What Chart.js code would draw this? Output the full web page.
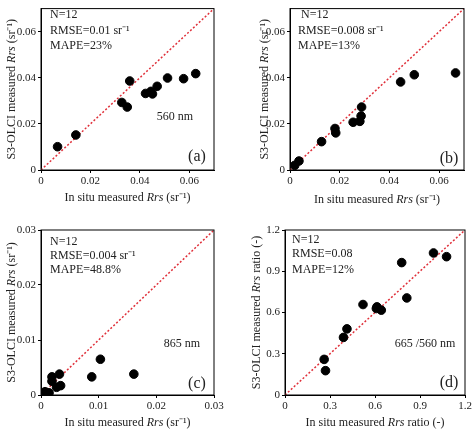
<!DOCTYPE html>
<html>
<head>
<meta charset="utf-8">
<script src="https://cdn.jsdelivr.net/npm/chart.js@4"></script>
<style>
  body { margin: 0; background: #fff; }
  .cell { position: absolute; width: 237px; height: 217px; }
</style>
</head>
<body>
<div class="cell" style="left:0;top:0"><canvas id="ca"></canvas></div>
<div class="cell" style="left:237px;top:0"><canvas id="cb"></canvas></div>
<div class="cell" style="left:0;top:217px"><canvas id="cc"></canvas></div>
<div class="cell" style="left:237px;top:217px"><canvas id="cd"></canvas></div>
<script>
// values
const insituA = [0.0067, 0.0141, 0.0327, 0.0349, 0.0359, 0.0423, 0.0445, 0.0451, 0.0470, 0.0512, 0.0577, 0.0626];
const olciA   = [0.0101, 0.0152, 0.0293, 0.0273, 0.0386, 0.0332, 0.0341, 0.0330, 0.0363, 0.0399, 0.0396, 0.0418];
const insituB = [0.0019, 0.0036, 0.0127, 0.0181, 0.0184, 0.0254, 0.0281, 0.0286, 0.0288, 0.0445, 0.0500, 0.0666];
const olciB   = [0.0020, 0.0039, 0.0123, 0.0180, 0.0161, 0.0207, 0.0211, 0.0234, 0.0273, 0.0382, 0.0413, 0.0421];
const insituC = [0.0001, 0.0004, 0.0007, 0.0014, 0.0019, 0.0019, 0.0027, 0.0032, 0.0034, 0.0088, 0.0103, 0.0161];
const olciC   = [0.0001, 0.0003, 0.0006, 0.0004, 0.0033, 0.0025, 0.0014, 0.0038, 0.0017, 0.0033, 0.0065, 0.0038];
const insituD = [0.261, 0.270, 0.390, 0.413, 0.520, 0.609, 0.613, 0.642, 0.778, 0.812, 0.990, 1.077];
const olciD   = [0.259, 0.177, 0.419, 0.481, 0.658, 0.629, 0.641, 0.617, 0.963, 0.706, 1.033, 1.006];

const ticksRrs = [0, 0.02, 0.04, 0.06];
const ticksNir = [0, 0.01, 0.02, 0.03];
const ticksRatio = [0, 0.3, 0.6, 0.9, 1.2];

const statsA = ['N=12', 'RMSE=0.01 sr⁻¹', 'MAPE=23%'];
const statsB = ['N=12', 'RMSE=0.008 sr⁻¹', 'MAPE=13%'];
const statsC = ['N=12', 'RMSE=0.004 sr⁻¹', 'MAPE=48.8%'];
const statsD = ['N=12', 'RMSE=0.08', 'MAPE=12%'];

const SERIF = '"Liberation Serif", "Times New Roman", serif';

function tickText(v) {
  if (v === 0) return '0';
  return String(v);
}

// draws mixed roman / italic text; parts = [[text, italic], ...]
function mixedText(ctx, parts, x, y, size) {
  let total = 0;
  parts.forEach(p => {
    ctx.font = (p[1] ? 'italic ' : '') + size + 'px ' + SERIF;
    total += ctx.measureText(p[0]).width;
  });
  let cx = x - total / 2;
  parts.forEach(p => {
    ctx.font = (p[1] ? 'italic ' : '') + size + 'px ' + SERIF;
    ctx.fillText(p[0], cx, y);
    cx += ctx.measureText(p[0]).width;
  });
}

function makePanel(id, cfg) {
  const points = cfg.xs.map((x, i) => ({ x: x, y: cfg.ys[i] }));

  const decor = {
    id: 'decor',
    afterDraw(chart) {
      const ctx = chart.ctx;
      const a = chart.chartArea;
      ctx.save();
      ctx.strokeStyle = '#000';
      ctx.lineWidth = 1;
      ctx.strokeRect(a.left, a.top, a.right - a.left, a.bottom - a.top);
      ctx.fillStyle = '#222';
      ctx.textBaseline = 'middle';
      ctx.textAlign = 'left';
      ctx.font = '12px ' + SERIF;
      cfg.stats.forEach((s, i) => {
        ctx.fillText(s, cfg.statX[i], cfg.statY[i]);
      });
      ctx.textAlign = 'center';
      ctx.font = '16px ' + SERIF;
      ctx.fillText(cfg.label, cfg.labelPos[0], cfg.labelPos[1]);
      if (cfg.band) {
        ctx.font = '12px ' + SERIF;
        ctx.fillText(cfg.band, cfg.bandPos[0], cfg.bandPos[1]);
      }
      ctx.textAlign = 'left';
      mixedText(ctx, cfg.xTitle, (a.left + a.right) / 2, cfg.xTitleY, 12);
      ctx.translate(cfg.yTitleX, (a.top + a.bottom) / 2);
      ctx.rotate(-Math.PI / 2);
      mixedText(ctx, cfg.yTitle, 0, 0, 12);
      ctx.restore();
    }
  };

  new Chart(document.getElementById(id), {
    type: 'scatter',
    data: {
      datasets: [
        {
          data: points,
          backgroundColor: '#000',
          borderColor: '#000',
          pointRadius: 4.3,
          pointHoverRadius: 4.3
        },
        {
          type: 'line',
          data: [{ x: 0, y: 0 }, { x: cfg.max, y: cfg.max }],
          borderColor: '#e0303a',
          borderWidth: 1.5,
          borderDash: [2, 2],
          pointRadius: 0,
          fill: false
        }
      ]
    },
    options: {
      responsive: false,
      animation: false,
      devicePixelRatio: 1,
      layout: { padding: { top: cfg.pad[0], right: cfg.pad[1], bottom: 0, left: 0 } },
      plugins: { legend: { display: false }, tooltip: { enabled: false } },
      scales: {
        x: {
          type: 'linear', min: 0, max: cfg.max,
          grid: { drawOnChartArea: false, tickLength: 3, color: '#000' },
          border: { color: '#000' },
          afterBuildTicks: s => { s.ticks = cfg.ticks.map(v => ({ value: v })); },
          afterFit: s => { s.height = cfg.xh; },
          ticks: { callback: tickText, color: '#222', font: { family: SERIF, size: 11 }, maxRotation: 0, padding: 2 }
        },
        y: {
          type: 'linear', min: 0, max: cfg.max,
          grid: { drawOnChartArea: false, tickLength: 3, color: '#000' },
          border: { color: '#000' },
          afterBuildTicks: s => { s.ticks = cfg.ticks.map(v => ({ value: v })); },
          afterFit: s => { s.width = cfg.yw; },
          ticks: { callback: tickText, color: '#222', font: { family: SERIF, size: 11 }, padding: 2 }
        }
      }
    },
    plugins: [decor]
  });
}

const rrsX = [['In situ measured ', false], ['Rrs', true], [' (sr⁻¹)', false]];
const rrsY = [['S3-OLCI measured ', false], ['Rrs', true], [' (sr⁻¹)', false]];

['ca', 'cb', 'cc', 'cd'].forEach(id => {
  const c = document.getElementById(id);
  c.width = 237; c.height = 217;
});

makePanel('ca', {
  xs: insituA, ys: olciA, ticks: ticksRrs, max: 0.07,
  pad: [5, 23], yw: 41, xh: 47,
  stats: statsA, statX: [50, 50, 50], statY: [15, 31, 46],
  label: '(a)', labelPos: [197, 157], band: '560 nm', bandPos: [175, 117],
  xTitle: rrsX, yTitle: rrsY, xTitleY: 198, yTitleX: 12
});
makePanel('cb', {
  xs: insituB, ys: olciB, ticks: ticksRrs, max: 0.07,
  pad: [5, 10], yw: 53, xh: 47,
  stats: statsB, statX: [64, 61, 61], statY: [15, 31, 46],
  label: '(b)', labelPos: [212, 159],
  xTitle: rrsX, yTitle: rrsY, xTitleY: 200, yTitleX: 28
});
makePanel('cc', {
  xs: insituC, ys: olciC, ticks: ticksNir, max: 0.03,
  pad: [13, 23], yw: 41, xh: 39,
  stats: statsC, statX: [50, 50, 50], statY: [25, 39, 53],
  label: '(c)', labelPos: [197, 167], band: '865 nm', bandPos: [182, 127],
  xTitle: rrsX, yTitle: rrsY, xTitleY: 206, yTitleX: 12
});
makePanel('cd', {
  xs: insituD, ys: olciD, ticks: ticksRatio, max: 1.2,
  pad: [13, 9], yw: 48, xh: 39,
  stats: statsD, statX: [55, 55, 55], statY: [23, 37, 53],
  label: '(d)', labelPos: [212, 166], band: '665 /560 nm', bandPos: [188, 127],
  xTitle: [['In situ measured ', false], ['Rrs', true], [' ratio (-)', false]],
  yTitle: [['S3-OLCI measured ', false], ['Rrs', true], [' ratio (-)', false]],
  xTitleY: 206, yTitleX: 20
});
</script>
</body>
</html>
